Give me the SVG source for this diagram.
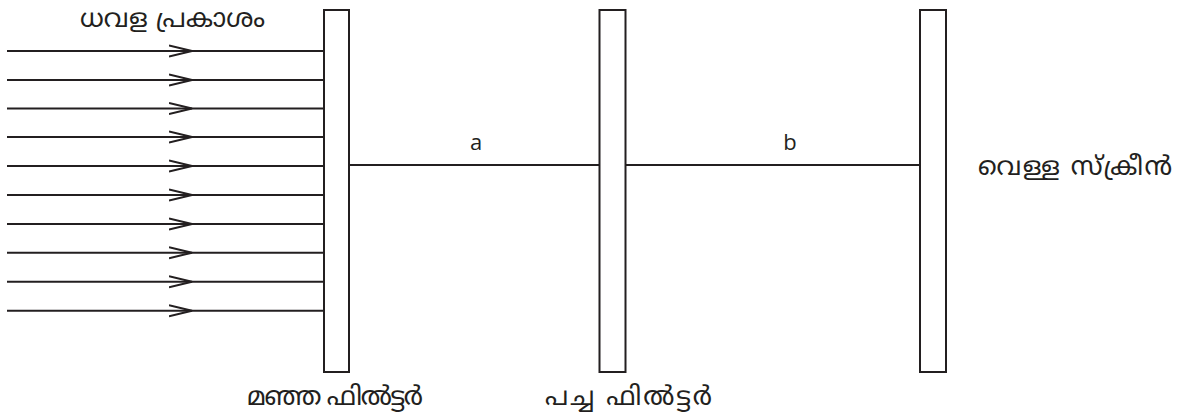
<svg xmlns="http://www.w3.org/2000/svg" width="1180" height="415" viewBox="0 0 1180 415">
<style>
.ln{stroke:#231f20;stroke-width:2;fill:none}
.box{stroke:#231f20;stroke-width:2;fill:#fff}
.t{font-family:"Noto Sans Malayalam","Noto Sans","DejaVu Sans",sans-serif;font-size:26px;fill:#231f20}
.l{font-family:"Open Sans","Liberation Sans",sans-serif;font-size:22px;fill:#231f20}
</style>
<defs>
<marker id="chev" markerWidth="26" markerHeight="14" refX="23" refY="7" orient="auto" markerUnits="userSpaceOnUse">
<path d="M0,1.5 L23,7 L0,12.5" class="ln"/>
</marker>
</defs>
<g id="connectors">
<g id="rays">
<path class="ln" d="M7,51 H192 H323" marker-mid="url(#chev)"/>
<path class="ln" d="M7,80 H192 H323" marker-mid="url(#chev)"/>
<path class="ln" d="M7,108.5 H192 H323" marker-mid="url(#chev)"/>
<path class="ln" d="M7,137 H192 H323" marker-mid="url(#chev)"/>
<path class="ln" d="M7,166 H192 H323" marker-mid="url(#chev)"/>
<path class="ln" d="M7,195 H192 H323" marker-mid="url(#chev)"/>
<path class="ln" d="M7,224 H192 H323" marker-mid="url(#chev)"/>
<path class="ln" d="M7,252.7 H192 H323" marker-mid="url(#chev)"/>
<path class="ln" d="M7,281.7 H192 H323" marker-mid="url(#chev)"/>
<path class="ln" d="M7,310.7 H192 H323" marker-mid="url(#chev)"/>
</g>
<path id="ab" class="ln" d="M349,165 H599.5"/>
<path id="bc" class="ln" d="M625.5,165 H920"/>
</g>
<g id="yellow-filter">
<rect class="box" x="324" y="10" width="25" height="362"/>
<text class="t" x="247" y="405" textLength="176" lengthAdjust="spacing">മഞ്ഞ ഫിൽട്ടർ</text>
</g>
<g id="green-filter">
<rect class="box" x="599.5" y="10" width="26" height="362"/>
<text class="t" x="545" y="405" textLength="167" lengthAdjust="spacing">പച്ച ഫിൽട്ടർ</text>
</g>
<g id="screen">
<rect class="box" x="920" y="10" width="26" height="362"/>
<text class="t" x="978" y="175" textLength="194" lengthAdjust="spacing">വെള്ള സ്ക്രീൻ</text>
</g>
<g id="white-light">
<text class="t" x="80" y="27" textLength="185" lengthAdjust="spacing">ധവള പ്രകാശം</text>
</g>
<text class="l" x="476" y="150" text-anchor="middle">a</text>
<text class="l" x="790" y="150" text-anchor="middle">b</text>
</svg>
